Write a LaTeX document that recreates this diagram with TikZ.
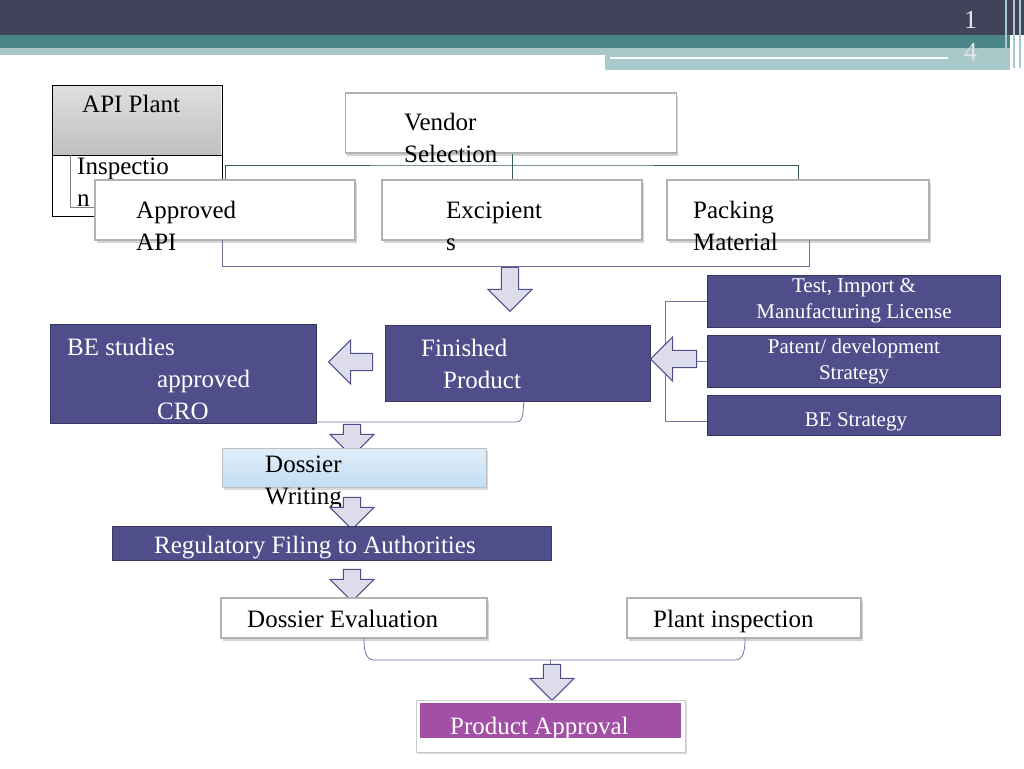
\documentclass[tikz,border=0pt]{standalone}
\usepackage{fontspec}
\setmainfont{Liberation Serif}
\usetikzlibrary{shapes.arrows,shadows}
\definecolor{barDark}{HTML}{41435A}
\definecolor{barTeal}{HTML}{4A8587}
\definecolor{barLight}{HTML}{A9C8CA}
\definecolor{boxPurple}{HTML}{4F4E8A}
\definecolor{arrowFill}{HTML}{DCDCEA}
\definecolor{dossierBlue}{HTML}{C3DDF2}
\definecolor{approvalPink}{HTML}{A24FA6}
\begin{document}
\begin{tikzpicture}[x=1pt,y=-1pt]
  \tikzset{whitebox/.style = {draw=gray!60,fill=white,line width=1.2pt,minimum width=#1,minimum height=60pt,drop shadow={shadow xshift=1.5pt,shadow yshift=-2.5pt,opacity=.35}}}
  \tikzset{purplebox/.style = {draw=boxPurple!70!black,fill=boxPurple,line width=1pt,text=white}}
  \tikzset{blockarrow/.style = {single arrow,draw=boxPurple,fill=arrowFill,line width=1pt,minimum width=44pt,minimum height=#1,single arrow head extend=10pt,inner sep=6pt}}
  \tikzset{txt/.style = {anchor=west,inner sep=0pt,font=\fontsize{25}{32}\selectfont,align=left}}
  \tikzset{line/.style = {anchor=base west,inner sep=0pt,font=\fontsize{25}{32}\selectfont}}
  \tikzset{wtxt/.style = {font=\fontsize{21}{26}\selectfont,text=white,align=center,inner sep=0pt}}
  \tikzset{link/.style = {draw=boxPurple!80,line width=0.8pt}}
  \useasboundingbox (0,0) rectangle (1024,768);

% title bars
\fill[barDark] (0,0) rectangle (1024,35);
\fill[barTeal] (0,35) rectangle (1010,48);
\fill[barLight] (0,48) rectangle (610,55);
\fill[barLight] (605,48) rectangle (1010,70);
\draw[white,line width=2pt] (610,58) -- (948,58);
\draw[barLight,line width=1.5pt] (1006,0) -- (1006,68) (1014,0) -- (1014,68) (1020,0) -- (1020,68);
\node[txt,font=\fontsize{26}{32}\selectfont,text=gray!20] (page) at (964,36) {1\\4};

% API plant
\node[draw,line width=1pt,minimum width=170pt,minimum height=131pt,anchor=north west] (plant) at (52,85) {};
\shade[top color=gray!25,bottom color=gray!50] (53,86) rectangle (221,155);
\draw[line width=0.8pt] (52,155) -- (222,155);
\draw[gray,line width=0.8pt] (70,155) -- (70,207) -- (95,207);
\node[line] (plantTop) at (82,112) {API Plant};
\node[txt] (plantBot) at (77,182) {Inspectio\\n};

% vendor selection
\coordinate (split) at (512,165);
\draw[barTeal!70!black,line width=1pt] (512,153) -- (split);
\node[whitebox=331pt] (vendor) at (511,123) {};
\node[txt] (vendorTxt) at (404,138) {Vendor\\Selection};
\node[whitebox=260pt] (api) at (225,210) {};
\node[whitebox=260pt] (excip) at (512,210) {};
\node[whitebox=262pt] (pack) at (798,210) {};
\node[txt] (apiTxt) at (136,226) {Approved\\API};
\node[txt] (excipTxt) at (446,226) {Excipient\\s};
\node[txt] (packTxt) at (693,226) {Packing\\Material};
\draw[barTeal!70!black,line width=1pt] (api.north) |- (split) -| (pack.north);
\draw[barTeal!70!black,line width=1pt] (split) -- (excip.north);
\draw[link] (222,240) -- (222,266) -- (809,266) -- (809,240);

% development
\node[blockarrow=44pt,rotate=-90] (arrDev) at (510,285) {};
\node[purplebox,minimum width=265pt,minimum height=76pt] (fpd) at (518,363) {};
\node[txt,text=white] (fpdTxt) at (421,364) {Finished\\\hspace*{22pt}Product};
\node[purplebox,minimum width=266pt,minimum height=99pt] (be) at (183,374) {};
\node[txt,text=white] (beTxt) at (67,379) {BE studies\\\hspace*{90pt}approved\\\hspace*{90pt}CRO};
\node[blockarrow=44pt,rotate=180] (arrBe) at (355,362) {};

\node[purplebox,minimum width=293pt,minimum height=52pt] (test) at (854,301) {};
\node[wtxt] (testTxt) at (854,301) {Test, Import \&\\Manufacturing License};
\node[purplebox,minimum width=293pt,minimum height=52pt] (patent) at (854,361) {};
\node[wtxt] (patentTxt) at (854,361) {Patent/ development\\Strategy};
\node[purplebox,minimum width=293pt,minimum height=40pt] (bestrat) at (854,415) {};
\node[wtxt] (bestratTxt) at (856,422) {BE Strategy};
\draw[link] (test.west) -- (665,301) -- (665,421) -- (bestrat.west |- 0,421);
\draw[link] (665,361) -- (patent.west);
\node[blockarrow=46pt,rotate=180] (arrFpd) at (678,359) {};

\draw[link] (be.south east |- 0,422) -- (516,422) to[out=0,in=-100] (fpd.south -| 524,0);

% dossier and filing
\node[blockarrow=32pt,rotate=-90] (arrDos) at (352,436) {};
\node[draw=gray!50,line width=1pt,top color=dossierBlue!50,bottom color=dossierBlue,minimum width=264pt,minimum height=39pt,drop shadow={shadow xshift=1.5pt,shadow yshift=-2pt,opacity=.3}] (dossier) at (354,468) {};
\node[txt] (dossierTxt) at (265,483) {Dossier\\Writing};
\node[blockarrow=32pt,rotate=-90] (arrReg) at (352,509) {};
\node[purplebox,minimum width=439pt,minimum height=34pt] (reg) at (332,543) {};
\node[line,text=white] (regTxt) at (154,553) {Regulatory Filing to Authorities};
\node[blockarrow=32pt,rotate=-90] (arrEval) at (352,581) {};

\node[whitebox=266pt,minimum height=40pt] (eval) at (354,618) {};
\node[line] (evalTxt) at (247,627) {Dossier Evaluation};
\node[whitebox=234pt,minimum height=40pt] (insp) at (744,618) {};
\node[line] (inspTxt) at (653,627) {Plant inspection};
\draw[link] (364,638) to[out=-90,in=180] (374,660) -- (735,660) to[out=0,in=-90] (745,638);
\draw[link] (550,660) -- (550,668);
\node[blockarrow=36pt,rotate=-90] (arrAppr) at (552,678) {};

\node[draw=gray!40,fill=white,line width=1pt,minimum width=269pt,minimum height=52pt,drop shadow={shadow xshift=1pt,shadow yshift=-2pt,opacity=.3}] (approval) at (551,726) {};
\fill[approvalPink] (420,703) rectangle (681,738);
\node[line,text=white] (approvalTxt) at (450,734) {Product Approval};
\end{tikzpicture}
\end{document}
